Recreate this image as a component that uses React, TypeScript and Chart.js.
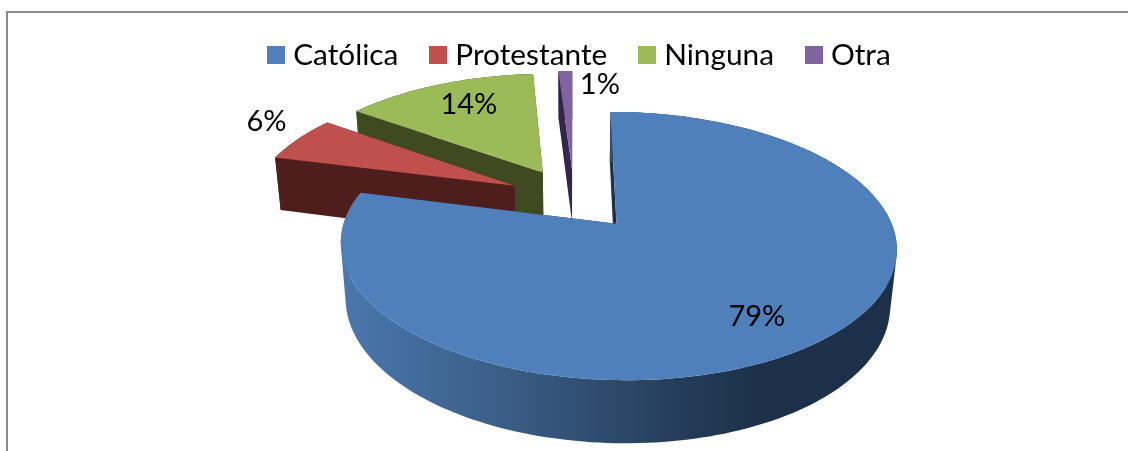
import React, { useEffect, useRef } from "react";
import { Chart, registerables } from "chart.js";

Chart.register(...registerables);

const categories = ["Católica", "Protestante", "Ninguna", "Otra"];
const values = [79, 6, 14, 1];
const topColors = ["#4f80bc", "#c0504d", "#9bbb59", "#8064a2"];
const wallColors = ["#1c3149", "#4e1e1c", "#3f4a20", "#33264a"];

// Perspective camera of the tilted pie
const view = { x0: 574, y0: 198.6, a: 265, b: 122.2, k: 0.16, j: 0.004, d: 55.8, m: 0.02, explode: 0.253 };
// Label placement: radius on the slice, then a small shift
const labelPlace = [
  { r: 0.8, dx: -15, dy: 0 },
  { r: 1.18, dx: 4, dy: -9 },
  { r: 0.72, dx: 4, dy: -2 },
  { r: 0.9, dx: 34, dy: 5 },
];

type Pt = { x: number; y: number };

const project = (u: number, v: number, z: number): Pt => {
  const w = 1 - view.k * v - view.j * u + view.m * z;
  return { x: view.x0 + (view.a * u) / w, y: view.y0 + (view.b * v + view.d * z) / w };
};

const signedArea = (pts: Pt[]) =>
  pts.reduce((sum, p, n) => {
    const q = pts[(n + 1) % pts.length];
    return sum + p.x * q.y - q.x * p.y;
  }, 0);

const swatch = (color: string) => {
  const c = document.createElement("canvas");
  c.width = 18;
  c.height = 18;
  const g = c.getContext("2d")!;
  g.fillStyle = color;
  g.fillRect(0, 0, 18, 18);
  return c;
};

const pie3d = {
  id: "pie3d",
  beforeDatasetDraw(chart: any) {
    const ctx = chart.ctx as CanvasRenderingContext2D;
    const arcs = chart.getDatasetMeta(0).data as any[];
    const wallGrad = ctx.createLinearGradient(341, 0, 760, 0);
    wallGrad.addColorStop(0, "#4a77ae");
    wallGrad.addColorStop(0.4, "#3a5d85");
    wallGrad.addColorStop(0.8, "#253d5b");
    wallGrad.addColorStop(1, "#1c3149");

    for (let i = arcs.length - 1; i >= 0; i--) {
      const { startAngle, endAngle } = arcs[i];
      const mid = (startAngle + endAngle) / 2;
      const ox = view.explode * Math.cos(mid);
      const oy = view.explode * Math.sin(mid);
      const steps = Math.max(4, Math.ceil((endAngle - startAngle) * 40));
      const rim: [number, number][] = [];
      for (let s = 0; s <= steps; s++) {
        const t = startAngle + ((endAngle - startAngle) * s) / steps;
        rim.push([ox + Math.cos(t), oy + Math.sin(t)]);
      }
      const trace = (pts: Pt[]) => {
        pts.forEach((p, n) => (n ? ctx.lineTo(p.x, p.y) : ctx.moveTo(p.x, p.y)));
        ctx.closePath();
      };
      const poly = (pts: Pt[], fill: any) => {
        ctx.beginPath();
        trace(pts);
        ctx.fillStyle = fill;
        ctx.fill();
      };
      const wall = wallColors[i];
      const radial = (e: [number, number]) =>
        poly([project(ox, oy, 0), project(e[0], e[1], 0), project(e[0], e[1], 1), project(ox, oy, 1)], wall);
      radial(rim[0]);
      radial(rim[rim.length - 1]);
      // The rim wall is one path of quads, wound alike, so it has neither seams nor gaps
      ctx.beginPath();
      for (let s = 0; s < rim.length - 1; s++) {
        const p = rim[s];
        const q = rim[s + 1];
        const quad = [project(p[0], p[1], 0), project(q[0], q[1], 0), project(q[0], q[1], 1), project(p[0], p[1], 1)];
        trace(signedArea(quad) < 0 ? quad.reverse() : quad);
      }
      ctx.fillStyle = i === 0 ? wallGrad : wall;
      ctx.fill();
      const top = rim.map((p) => project(p[0], p[1], 0));
      poly([project(ox, oy, 0), ...top], topColors[i]);
    }
    return false;
  },
  afterDatasetsDraw(chart: any) {
    const ctx = chart.ctx as CanvasRenderingContext2D;
    const arcs = chart.getDatasetMeta(0).data as any[];
    const total = values.reduce((a, b) => a + b, 0);
    ctx.save();
    ctx.font = "29px Lato";
    ctx.fillStyle = "#000";
    ctx.textAlign = "center";
    ctx.textBaseline = "middle";
    arcs.forEach((arc, i) => {
      const mid = (arc.startAngle + arc.endAngle) / 2;
      const place = labelPlace[i];
      const r = view.explode + place.r;
      const p = project(r * Math.cos(mid), r * Math.sin(mid), 0);
      ctx.fillText(`${Math.round((values[i] / total) * 100)}%`, p.x + place.dx, p.y + place.dy);
    });
    ctx.restore();
  },
};

export default function App() {
  const ref = useRef<HTMLCanvasElement>(null);
  useEffect(() => {
    const chart = new Chart(ref.current!, {
      type: "pie",
      data: {
        labels: categories,
        datasets: [{ data: values, backgroundColor: topColors, borderWidth: 0 }],
      },
      options: {
        responsive: false,
        animation: false,
        layout: { padding: { left: 37, top: 2 } },
        plugins: {
          tooltip: { enabled: false },
          legend: {
            position: "top",
            labels: {
              font: { family: "Lato", size: 29.8 },
              color: "#000",
              usePointStyle: true,
              pointStyleWidth: 4,
              boxHeight: 18,
              padding: 38,
              generateLabels: () =>
                categories.map((text, i) => ({
                  text,
                  fillStyle: topColors[i],
                  strokeStyle: topColors[i],
                  lineWidth: 0,
                  pointStyle: swatch(topColors[i]),
                  index: i,
                  hidden: false,
                })),
            },
          },
        },
      },
      plugins: [pie3d],
    } as any);
    return () => chart.destroy();
  }, []);
  return (
    <div style={{ position: "fixed", left: 0, top: 0, width: 1128, height: 451, background: "#fff" }}>
      <canvas ref={ref} width={1128} height={451} style={{ display: "block" }} />
      <div
        style={{
          position: "absolute",
          left: 6,
          top: 11,
          right: 0,
          bottom: 0,
          borderTop: "2px solid #898989",
          borderLeft: "2px solid #898989",
        }}
      />
    </div>
  );
}
